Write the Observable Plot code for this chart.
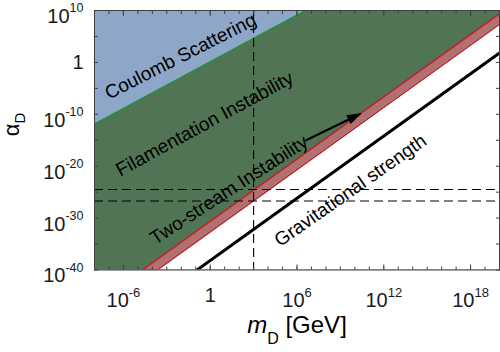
<!DOCTYPE html>
<html>
<head>
<meta charset="utf-8">
<script src="https://cdn.jsdelivr.net/npm/d3@7"></script>
<script src="https://cdn.jsdelivr.net/npm/@observablehq/plot@0.6"></script>
<style>
  html, body { margin: 0; padding: 0; background: white; }
  #chart { width: 500px; height: 352px; }
</style>
</head>
<body>
<div id="chart"></div>
<script>
// ---- data ----
// boundary lines, evaluated at the two ends of the mass axis (log-log straight lines)
const massRange = [1e-8, 1e20];                 // GeV
const coulombAlpha = [1.26e-12, 1.26e30];       // Coulomb scattering / filamentation boundary
const twoStreamUpperAlpha = [2.5e-47, 2.5e9];   // upper edge of two-stream band
const twoStreamLowerAlpha = [2.2e-49, 2.2e7];   // lower edge of two-stream band
const gravityAlpha = [6.7e-55, 67];             // gravitational strength G m^2
const floorAlpha = 1e-60;

// dashed reference lines
const referenceMass = [1e3];
const referenceAlpha = [3.2e-25, 2e-27];

// axis ticks
const xTickValues = [1e-6, 1, 1e6, 1e12, 1e18];
const xTickLabels = ["10^-6", "1", "10^6", "10^12", "10^18"];
const yTickValues = [1e10, 1, 1e-10, 1e-20, 1e-30, 1e-40];
const yTickLabels = ["10^10", "1", "10^-10", "10^-20", "10^-30", "10^-40"];
const xMinorTicks = d3.range(-8, 21).map(e => Math.pow(10, e));
const yMinorTicks = d3.range(-40, 11, 5).map(e => Math.pow(10, e));

// region annotations
const regionLabels = ["Coulomb Scattering", "Filamentation Instability", "Two-stream Instability", "Gravitational strength"];
const labelMass = [8.9e-3, 0.41, 20, 5e9];
const labelAlpha = [13.8, 1.35e-12, 2.6e-25, 2.1e-25];
const labelAngle = [-27, -28.5, -33, -35];
const labelFont = ["Liberation Sans, Arial, sans-serif", "Liberation Sans, Arial, sans-serif", "Liberation Sans, Arial, sans-serif", "Open Sans, sans-serif"];

// arrow from "Two-stream Instability" to the band
const arrowFrom = [3.9e6, 8.9e-16];
const arrowTo = [2.3e10, 1.15e-10];

const xTitle = "m_D [GeV]";
const yTitle = "α_D";

// ---- colors ----
const blue = "#8ea7c8";
const green = "#517554";
const bandFill = "#b27070";
const redLine = "#b2242a";
const greenLine = "#23913a";
const axisColor = "#404040";

const labelIdx = d3.range(regionLabels.length);

const chart = Plot.plot({
  width: 500,
  height: 352,
  marginLeft: 94,
  marginRight: 1,
  marginTop: 10,
  marginBottom: 82.5,
  x: {type: "log", domain: [1e-8, 1e20]},
  y: {type: "log", domain: [1e-40, 1e10]},
  style: {fontFamily: "Liberation Sans, Arial, sans-serif", background: "white", color: "#1a1a1a"},
  marks: [
    Plot.frame({fill: blue}),
    Plot.areaY(massRange, {x: massRange, y1: floorAlpha, y2: coulombAlpha, fill: green, clip: true}),
    Plot.areaY(massRange, {x: massRange, y1: floorAlpha, y2: twoStreamUpperAlpha, fill: bandFill, clip: true}),
    Plot.areaY(massRange, {x: massRange, y1: floorAlpha, y2: twoStreamLowerAlpha, fill: "white", clip: true}),
    Plot.line(massRange, {x: massRange, y: coulombAlpha, stroke: greenLine, strokeWidth: 1.4, clip: true}),
    Plot.line(massRange, {x: massRange, y: twoStreamUpperAlpha, stroke: redLine, strokeWidth: 1.5, clip: true}),
    Plot.line(massRange, {x: massRange, y: twoStreamLowerAlpha, stroke: redLine, strokeWidth: 1.5, clip: true}),
    Plot.line(massRange, {x: massRange, y: gravityAlpha, stroke: "black", strokeWidth: 3, clip: true}),
    Plot.ruleX(referenceMass, {stroke: "black", strokeWidth: 1.1, strokeDasharray: "9,5"}),
    Plot.ruleY(referenceAlpha, {stroke: "black", strokeWidth: 1.1, strokeDasharray: "9,5"}),
    Plot.frame({stroke: axisColor, strokeWidth: 1}),
    // inward ticks on all four sides
    Plot.axisX({anchor: "bottom", ticks: xMinorTicks, tickSize: -3, tickFormat: () => "", label: null, stroke: axisColor}),
    Plot.axisX({anchor: "top", ticks: xMinorTicks, tickSize: -3, tickFormat: () => "", label: null, stroke: axisColor}),
    Plot.axisX({anchor: "bottom", ticks: xTickValues, tickSize: -5, tickFormat: () => "", label: null, stroke: axisColor}),
    Plot.axisX({anchor: "top", ticks: xTickValues, tickSize: -5, tickFormat: () => "", label: null, stroke: axisColor}),
    Plot.axisY({anchor: "left", ticks: yMinorTicks, tickSize: -4, tickFormat: () => "", label: null, stroke: axisColor}),
    Plot.axisY({anchor: "right", ticks: yMinorTicks, tickSize: -4, tickFormat: () => "", label: null, stroke: axisColor}),
    // tick labels
    Plot.axisX({anchor: "bottom", ticks: xTickValues, tickSize: 0, tickPadding: 18, fontSize: 20,
      tickFormat: d => xTickLabels[xTickValues.indexOf(d)], label: null}),
    Plot.axisY({anchor: "left", ticks: yTickValues, tickSize: 0, tickPadding: 11, fontSize: 20,
      tickFormat: d => yTickLabels[yTickValues.indexOf(d)], label: null}),
    // region labels
    Plot.text(labelIdx, {
      x: i => labelMass[i], y: i => labelAlpha[i], text: i => regionLabels[i],
      rotate: i => labelAngle[i], fontSize: 19, fill: "black", fontFamily: i => labelFont[i]
    }),
    // arrow
    Plot.link([0], {x1: arrowFrom[0], y1: arrowFrom[1], x2: arrowTo[0], y2: arrowTo[1], stroke: "black", strokeWidth: 2}),
    // axis titles
    Plot.text([xTitle], {frameAnchor: "bottom", dy: 63, fontSize: 24, fill: "black", textAnchor: "middle"}),
    Plot.text([yTitle], {frameAnchor: "left", dx: -83, dy: -4, rotate: -90, fontSize: 22, fill: "black"})
  ]
});

document.getElementById("chart").appendChild(chart);

// ---- rich text: superscripts / subscripts ----
const ns = "http://www.w3.org/2000/svg";
function span(text, attrs) {
  const s = document.createElementNS(ns, "tspan");
  s.textContent = text;
  for (const k in attrs) s.setAttribute(k, attrs[k]);
  return s;
}
chart.querySelectorAll("text").forEach(t => {
  const s = t.textContent;
  const g = t.closest("g[aria-label]");
  const aria = g ? g.getAttribute("aria-label") : "";
  if (s.includes("^")) {
    const [base, sup] = s.split("^");
    t.textContent = "";
    if (aria.startsWith("x-axis")) {
      t.appendChild(span(base, {dy: 4.5}));
      t.appendChild(span(sup, {dy: -9.5, "font-size": 13}));
    } else {
      t.appendChild(span(base, {dy: 6}));
      t.appendChild(span(sup, {dy: -10.5, "font-size": 12.5}));
    }
  } else if (s === xTitle) {
    t.textContent = "";
    t.appendChild(span("m", {"font-style": "italic"}));
    t.appendChild(span("D", {dy: 11, "font-size": 16}));
    t.appendChild(span(" [GeV]", {dy: -11}));
  } else if (s === yTitle) {
    t.textContent = "";
    t.appendChild(span("α", {}));
    t.appendChild(span("D", {dy: 6, "font-size": 15}));
  }
});

// filled arrowhead
const defs = document.createElementNS(ns, "defs");
defs.innerHTML = '<marker id="ahead" viewBox="0 0 15 10" refX="13" refY="5" markerWidth="15" markerHeight="10" markerUnits="userSpaceOnUse" orient="auto"><path d="M0,0L15,5L0,10Z" fill="black"/></marker>';
chart.insertBefore(defs, chart.firstChild);
const linkPath = chart.querySelector('g[aria-label="link"] path');
if (linkPath) linkPath.setAttribute("marker-end", "url(#ahead)");
</script>
</body>
</html>
